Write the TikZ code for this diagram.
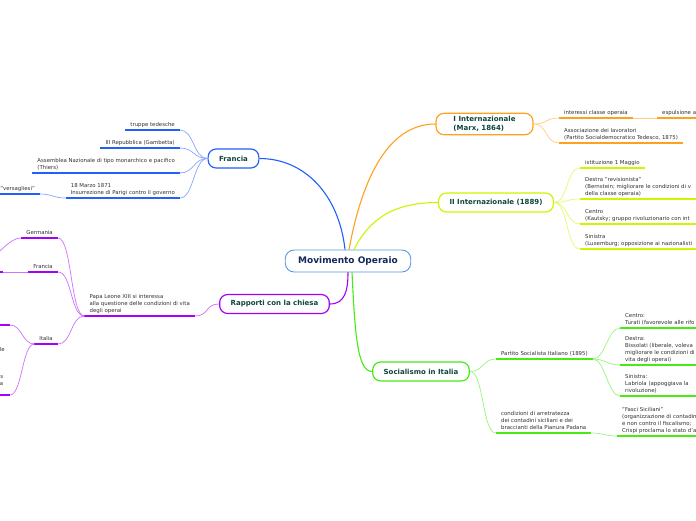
\documentclass[tikz,border=0pt]{standalone}
\usepackage{fontspec}
\setmainfont{DejaVu Sans}
\usetikzlibrary{positioning}
\definecolor{royal}{RGB}{35,95,250}
\definecolor{grape}{RGB}{165,0,250}
\definecolor{tang}{RGB}{255,160,30}
\definecolor{citrus}{RGB}{205,245,0}
\definecolor{grass}{RGB}{70,235,20}
\definecolor{sky}{RGB}{90,150,220}
\definecolor{deep}{RGB}{20,40,90}
\definecolor{pine}{RGB}{15,70,60}
\definecolor{ink}{RGB}{50,50,50}
\newcommand{\leaffont}{\fontsize{5.4}{6.8}\selectfont}
% a line that runs on past the edge of the page
\newcommand{\runon}[2][130pt]{\makebox[#1][l]{#2}}
\tikzset{
  hub/.style={draw=sky,fill=white,line width=0.9pt,rounded corners=9pt,minimum height=22pt,
    inner xsep=13pt,font=\fontsize{9}{10.5}\selectfont\bfseries,text=deep},
  topic/.style={draw=#1,fill=white,line width=1.2pt,rounded corners=8pt,minimum height=19pt,
    inner xsep=11pt,align=left,font=\fontsize{7}{8.4}\selectfont\bfseries,text=pine},
  leafr/.style={font=\leaffont,text=ink,align=left,anchor=south west,inner xsep=5pt,
    inner ysep=3.5pt,text depth=0pt,
    append after command={(\tikzlastnode.south west) edge[draw=#1,line width=2.2pt] (\tikzlastnode.south east)}},
  leafl/.style={leafr=#1,anchor=south east},
  frag/.style={font=\leaffont,text=ink,inner sep=0pt},
  branch/.style={draw=#1,line width=1.1pt},
  twig/.style={draw=#1!55,line width=0.7pt},
  bar/.style={draw=#1,line width=2.2pt},
}
\begin{document}
\begin{tikzpicture}[x=1pt,y=-1pt]
  \useasboundingbox (0,0) rectangle (696,520);
  \fill[white] (0,0) rectangle (696,520);
  \clip (0,0) rectangle (696,520);

  % centre and main topics
  \node[hub] (main) at (348,261) {Movimento Operaio};
  \node[topic=royal] (fra) at (233.5,158.5) {Francia};
  \node[topic=grape] (chi) at (274.5,304) {Rapporti con la chiesa};
  \node[topic=tang,minimum width=97pt] (int1) at (484.5,124) {I Internazionale\\(Marx, 1864)};
  \node[topic=citrus] (int2) at (496,202.5) {II Internazionale (1889)};
  \node[topic=grass] (soc) at (421,371.5) {Socialismo in Italia};

  \draw[branch=royal] ([xshift=-3pt]main.north) .. controls +(-6,-55) and +(45,0) .. (fra.east);
  \draw[branch=tang] ([xshift=1pt]main.north) .. controls +(12,-65) and +(-50,0) .. (int1.west);
  \draw[branch=citrus] ([xshift=6pt]main.north) .. controls +(15,-30) and +(-45,0) .. (int2.west);
  \draw[branch=grape] ([xshift=0pt]main.south) .. controls +(0,18) and +(15,0) .. (chi.east);
  \draw[branch=grass] ([xshift=4pt]main.south) .. controls +(3,60) and +(-15,0) .. (soc.west);

  % Francia
  \node[leafl=royal] (f1) at (180,130) {truppe tedesche};
  \node[leafl=royal] (f2) at (180,148) {III Repubblica (Gambetta)};
  \node[leafl=royal] (f3) at (180,173) {Assemblea Nazionale di tipo monarchico e pacifico\\(Thiers)};
  \node[leafl=royal] (f4) at (180,198) {18 Marzo 1871\\Insurrezione di Parigi contro il governo};
  \node[leafl=royal] (ver) at (40,194) {"versagliesi"};
  \foreach \n in {f1,f2,f3,f4}
    \draw[twig=royal] (fra.west) .. controls +(-14,0) and +(14,0) .. (\n.south east);
  \draw[twig=royal] (f4.south west) .. controls +(-12,0) and +(12,0) .. (ver.south east);

  % Rapporti con la chiesa
  \node[leafl=grape] (r1) at (195,316) {Papa Leone XIII si interessa\\alla questione delle condizioni di vita\\degli operai};
  \node[leafl=grape] (ger) at (58,238) {Germania};
  \node[leafl=grape] (fr2) at (58,272) {Francia};
  \node[leafl=grape] (ita) at (58,344) {Italia};
  \draw[twig=grape] (chi.west) .. controls +(-14,0) and +(14,0) .. (r1.south east);
  \foreach \n in {ger,fr2,ita}
    \draw[twig=grape] (r1.south west) .. controls +(-14,0) and +(14,0) .. (\n.south east);
  \coordinate (gerx) at (-6,256);
  \coordinate (fr2x) at (3,272);
  \coordinate (itaa) at (10,325);
  \coordinate (itab) at (10,395);
  \draw[twig=grape] (ger.south west) .. controls +(-10,0) and +(8,-6) .. (gerx);
  \draw[twig=grape] (fr2.south west) -- (fr2x);
  \draw[bar=grape] (-10,272) -- (fr2x);
  \draw[bar=grape] (-10,325) -- (itaa);
  \draw[bar=grape] (-10,395) -- (itab);
  \draw[twig=grape] (ita.south west) .. controls +(-12,0) and +(12,0) .. (itaa);
  \draw[twig=grape] (ita.south west) .. controls +(-12,0) and +(12,0) .. (itab);
  \node[frag,anchor=base east] (fle) at (5,351) {le};
  \node[frag,anchor=base east] (fs) at (3.5,378) {s};
  \node[frag,anchor=base east] (fa) at (3.5,385) {a};

  % I Internazionale
  \node[leafr=tang] (i1) at (559,118) {interessi classe operaia};
  \node[leafr=tang] (ie) at (657,118) {\runon[40pt]{espulsione a}};
  \node[leafr=tang] (i2) at (559,143) {Associazione dei lavoratori\\(Partito Socialdemocratico Tedesco, 1875)};
  \foreach \n in {i1,i2}
    \draw[twig=tang] (int1.east) .. controls +(14,0) and +(-14,0) .. (\n.south west);
  \draw[twig=tang] (i1.south east) -- (ie.south west);

  % II Internazionale
  \node[leafr=citrus] (j1) at (580,168) {istituzione 1 Maggio};
  \node[leafr=citrus] (j2) at (580,199) {Destra "revisionista"\\\runon{(Bernstein; migliorare le condizioni di v}\\della classe operaia)};
  \node[leafr=citrus] (j3) at (580,224) {Centro\\\runon{(Kautsky; gruppo rivoluzionario con int}};
  \node[leafr=citrus] (j4) at (580,249) {Sinistra\\\runon{(Luxemburg; opposizione ai nazionalisti}};
  \foreach \n in {j1,j2,j3,j4}
    \draw[twig=citrus] (int2.east) .. controls +(14,0) and +(-14,0) .. (\n.south west);

  % Socialismo in Italia
  \node[leafr=grass] (s1) at (496,359) {Partito Socialista Italiano (1895)};
  \node[leafr=grass] (s2) at (496,433) {condizioni di arretratezza\\dei contadini siciliani e dei\\braccianti della Pianura Padana};
  \node[leafr=grass] (s1a) at (620,328) {Centro:\\\runon[80pt]{Turati (favorevole alle rifo}};
  \node[leafr=grass] (s1b) at (620,365) {\runon[80pt]{Destra:}\\Bissolati (liberale, voleva\\migliorare le condizioni di\\vita degli operai)};
  \node[leafr=grass] (s1c) at (620,396) {\runon[80pt]{Sinistra:}\\Labriola (appoggiava la\\rivoluzione)};
  \node[leafr=grass] (s2a) at (617,436) {"Fasci Siciliani"\\\runon[80pt]{(organizzazione di contadin}\\e non contro il fiscalismo;\\Crispi proclama lo stato d'a};
  \foreach \n in {s1,s2}
    \draw[twig=grass] (soc.east) .. controls +(14,0) and +(-14,0) .. (\n.south west);
  \foreach \n in {s1a,s1b,s1c}
    \draw[twig=grass] (s1.south east) .. controls +(12,0) and +(-12,0) .. (\n.south west);
  \draw[twig=grass] (s2.south east) .. controls +(12,0) and +(-12,0) .. (s2a.south west);
\end{tikzpicture}
\end{document}
